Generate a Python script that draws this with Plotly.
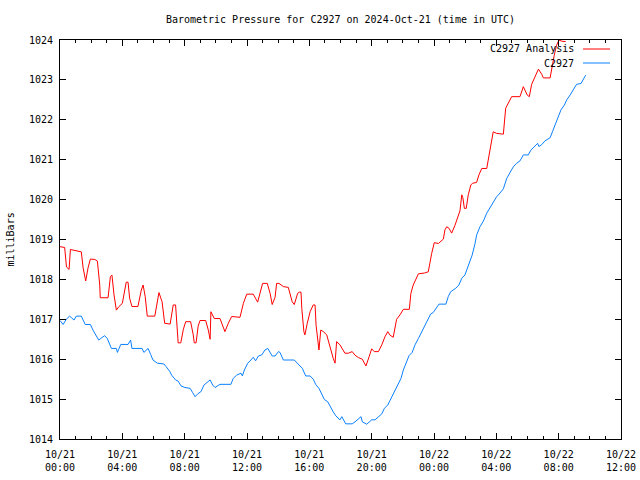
import pandas as pd
import plotly.graph_objects as go

# Minutes since 2024-10-21 00:00 UTC, and pressure in millibars
analysis_minutes = [0, 18, 25, 35, 40, 82, 89, 99, 108, 117, 134, 144, 153, 155, 185, 194, 200, 208, 217, 227,
                    240, 249, 255, 262, 268, 277, 300, 313, 320, 328, 336, 365, 375, 381, 393, 403, 424, 430, 436, 445,
                    452, 455, 465, 475, 484, 503, 513, 517, 524, 532, 539, 561, 571, 578, 581, 594, 616, 635, 648, 661,
                    693, 706, 719, 744, 761, 770, 780, 798, 809, 817, 828, 834, 843, 860, 879, 894, 902, 915, 921, 928,
                    931, 939, 943, 952, 963, 975, 982, 986, 992, 997, 1004, 1014, 1027, 1040, 1052, 1059, 1065, 1078, 1097, 1110,
                    1125, 1136, 1149, 1164, 1178, 1190, 1200, 1210, 1226, 1239, 1251, 1262, 1271, 1283, 1296, 1309, 1322, 1345, 1351, 1360,
                    1373, 1380, 1403, 1418, 1431, 1441, 1457, 1476, 1482, 1489, 1498, 1508, 1521, 1534, 1540, 1547, 1551, 1557, 1564, 1572,
                    1582, 1589, 1604, 1613, 1624, 1643, 1652, 1660, 1668, 1681, 1707, 1716, 1722, 1739, 1771, 1784, 1799, 1807, 1816, 1829,
                    1842, 1855, 1861, 1887, 1893, 1903, 1912, 1921, 1932, 1947]
analysis_mbar = [1018.82, 1018.80, 1018.31, 1018.25, 1018.75, 1018.69, 1018.29, 1017.96, 1018.29, 1018.51, 1018.50, 1018.46, 1017.86, 1017.54, 1017.54, 1018.07, 1018.11, 1017.61, 1017.23, 1017.32,
                 1017.40, 1017.73, 1017.93, 1017.93, 1017.53, 1017.32, 1017.32, 1017.73, 1017.86, 1017.57, 1017.08, 1017.08, 1017.48, 1017.67, 1017.44, 1016.90, 1016.88, 1017.19, 1017.36, 1017.36,
                 1016.78, 1016.41, 1016.41, 1016.75, 1016.94, 1016.94, 1016.61, 1016.41, 1016.41, 1016.83, 1016.97, 1016.97, 1016.73, 1016.50, 1017.19, 1017.02, 1017.02, 1016.69, 1016.90, 1017.07,
                 1017.05, 1017.40, 1017.63, 1017.63, 1017.43, 1017.65, 1017.90, 1017.90, 1017.65, 1017.37, 1017.55, 1017.90, 1017.90, 1017.82, 1017.80, 1017.44, 1017.37, 1017.65, 1017.68, 1017.68,
                 1017.27, 1016.69, 1016.61, 1016.90, 1017.19, 1017.36, 1017.36, 1016.85, 1016.44, 1016.23, 1016.73, 1016.69, 1016.61, 1016.27, 1016.02, 1015.90, 1016.44, 1016.36, 1016.15, 1016.15,
                 1016.19, 1016.10, 1016.04, 1016.00, 1015.83, 1016.06, 1016.26, 1016.19, 1016.19, 1016.36, 1016.56, 1016.69, 1016.60, 1016.55, 1017.00, 1017.11, 1017.25, 1017.25, 1017.65, 1017.86,
                 1018.07, 1018.14, 1018.16, 1018.19, 1018.65, 1018.92, 1018.90, 1019.01, 1019.24, 1019.32, 1019.28, 1019.16, 1019.36, 1019.61, 1019.72, 1020.12, 1020.05, 1019.78, 1019.78, 1020.12,
                 1020.37, 1020.41, 1020.43, 1020.62, 1020.78, 1020.78, 1021.12, 1021.37, 1021.70, 1021.66, 1021.64, 1022.29, 1022.37, 1022.58, 1022.58, 1022.83, 1022.62, 1022.58, 1022.89, 1023.08,
                 1023.27, 1023.14, 1023.05, 1023.05, 1023.29, 1023.62, 1023.87, 1024.00, 1023.97, 1023.96]

obs_minutes = [0, 12, 24, 37, 46, 54, 63, 82, 97, 117, 127, 136, 149, 157, 172, 182, 191, 198, 217, 221,
               226, 234, 262, 272, 277, 316, 323, 331, 339, 349, 358, 375, 400, 409, 422, 430, 445, 455, 466, 481,
               501, 511, 520, 530, 543, 554, 565, 578, 588, 597, 616, 658, 667, 680, 697, 702, 710, 723, 735, 744,
               753, 764, 777, 789, 800, 809, 817, 828, 841, 847, 860, 902, 911, 924, 933, 946, 963, 975, 985, 997,
               1008, 1018, 1031, 1040, 1052, 1062, 1072, 1078, 1085, 1091, 1100, 1125, 1136, 1159, 1164, 1181, 1191, 1200, 1213, 1226,
               1239, 1249, 1262, 1271, 1296, 1313, 1322, 1335, 1344, 1356, 1367, 1380, 1393, 1405, 1418, 1427, 1437, 1450, 1459, 1486,
               1495, 1504, 1524, 1536, 1547, 1559, 1572, 1587, 1598, 1604, 1617, 1630, 1643, 1660, 1668, 1681, 1691, 1707, 1720, 1733,
               1745, 1758, 1771, 1784, 1803, 1813, 1829, 1839, 1844, 1855, 1867, 1887, 1896, 1906, 1919, 1929, 1942, 1951, 1964, 1976,
               1989, 2006, 2015, 2024]
obs_mbar = [1016.97, 1016.87, 1017.00, 1017.08, 1017.03, 1016.98, 1017.08, 1017.08, 1016.87, 1016.87, 1016.73, 1016.62, 1016.48, 1016.52, 1016.59, 1016.52, 1016.36, 1016.27, 1016.27, 1016.17,
            1016.25, 1016.37, 1016.37, 1016.48, 1016.27, 1016.27, 1016.17, 1016.22, 1016.27, 1016.12, 1015.98, 1015.90, 1015.88, 1015.81, 1015.70, 1015.60, 1015.48, 1015.45, 1015.33, 1015.29,
            1015.27, 1015.16, 1015.06, 1015.13, 1015.19, 1015.35, 1015.40, 1015.48, 1015.35, 1015.29, 1015.37, 1015.37, 1015.52, 1015.60, 1015.65, 1015.58, 1015.73, 1015.90, 1015.98, 1016.05,
            1015.96, 1016.08, 1016.11, 1016.23, 1016.27, 1016.17, 1016.08, 1016.08, 1016.19, 1016.17, 1015.98, 1015.98, 1015.92, 1015.85, 1015.77, 1015.58, 1015.58, 1015.50, 1015.36, 1015.27,
            1015.10, 1014.99, 1014.93, 1014.81, 1014.68, 1014.58, 1014.52, 1014.48, 1014.56, 1014.48, 1014.38, 1014.38, 1014.43, 1014.56, 1014.43, 1014.37, 1014.43, 1014.48, 1014.48, 1014.56,
            1014.63, 1014.77, 1014.85, 1014.97, 1015.31, 1015.52, 1015.73, 1015.96, 1016.09, 1016.17, 1016.36, 1016.52, 1016.69, 1016.86, 1017.02, 1017.13, 1017.17, 1017.28, 1017.38, 1017.38,
            1017.57, 1017.69, 1017.78, 1017.86, 1018.03, 1018.11, 1018.36, 1018.61, 1018.90, 1019.11, 1019.32, 1019.46, 1019.66, 1019.86, 1019.95, 1020.07, 1020.14, 1020.27, 1020.53, 1020.70,
            1020.82, 1020.91, 1020.97, 1021.12, 1021.12, 1021.24, 1021.33, 1021.41, 1021.33, 1021.38, 1021.47, 1021.55, 1021.70, 1021.87, 1022.08, 1022.25, 1022.37, 1022.50, 1022.62, 1022.75,
            1022.89, 1022.91, 1023.02, 1023.12]

series_names = ["C2927 Analysis", "C2927"]
series_colors = ["#ff0000", "#0a80ff"]

start = pd.Timestamp("2024-10-21 00:00")
analysis_time = start + pd.to_timedelta(analysis_minutes, unit="min")
obs_time = start + pd.to_timedelta(obs_minutes, unit="min")

FONT = "DejaVu Sans Mono"

fig = go.Figure()
fig.add_trace(go.Scatter(x=analysis_time, y=analysis_mbar, mode="lines", name=series_names[0],
                         line=dict(color=series_colors[0], width=1), showlegend=False))
fig.add_trace(go.Scatter(x=obs_time, y=obs_mbar, mode="lines", name=series_names[1],
                         line=dict(color=series_colors[1], width=1), showlegend=False))

# gnuplot-style legend: text right-aligned, line sample to the right
for i, (name, col) in enumerate(zip(series_names, series_colors)):
    yp = 1 - (9 + 14 * i) / 399
    fig.add_annotation(xref="paper", yref="paper", x=(576 - 60) / 561, y=yp, text=name,
                       showarrow=False, xanchor="right", yanchor="middle",
                       font=dict(family=FONT, size=10, color="black"))
    fig.add_shape(type="line", xref="paper", yref="paper",
                  x0=(583 - 60) / 561, x1=(610 - 60) / 561, y0=yp, y1=yp,
                  line=dict(color=col, width=1))

fig.add_annotation(xref="paper", yref="paper", x=(10 - 60) / 561, y=0.5, text="milliBars",
                   textangle=-90, showarrow=False, xanchor="center", yanchor="middle",
                   font=dict(family=FONT, size=10, color="black"))

fig.update_layout(
    width=640, height=480,
    margin=dict(l=60, r=19, t=40, b=41, autoexpand=False),
    paper_bgcolor="white", plot_bgcolor="white",
    font=dict(family=FONT, size=10, color="black"),
    title=dict(text="Barometric Pressure for C2927 on 2024-Oct-21 (time in UTC)",
               xref="paper", x=0.5, xanchor="center", y=1 - 19 / 480, yanchor="middle",
               font=dict(family=FONT, size=10, color="black")),
)
fig.update_xaxes(
    range=[pd.Timestamp("2024-10-21 00:00"), pd.Timestamp("2024-10-22 12:00")],
    type="date", dtick=4 * 3600 * 1000, tick0="2024-10-21 00:00",
    tickformat="%m/%d<br>%H:%M", automargin=False,
    ticks="inside", ticklen=6, tickcolor="black",
    minor=dict(ticks="inside", ticklen=3, dtick=3600 * 1000, tickcolor="black", showgrid=False),
    showline=True, linecolor="black", linewidth=1, mirror="allticks",
    showgrid=False, zeroline=False, ticklabelstandoff=6,
    tickfont=dict(family=FONT, size=10, color="black"),
)
fig.update_yaxes(
    range=[1014, 1024], dtick=1, tick0=1014, automargin=False,
    ticks="inside", ticklen=6, tickcolor="black",
    showline=True, linecolor="black", linewidth=1, mirror="allticks",
    showgrid=False, zeroline=False, ticklabelstandoff=4,
    tickfont=dict(family=FONT, size=10, color="black"),
)

fig.write_html("out.html", config={"displayModeBar": False},
               post_script="document.body.style.margin='0';document.body.style.overflow='hidden';")
